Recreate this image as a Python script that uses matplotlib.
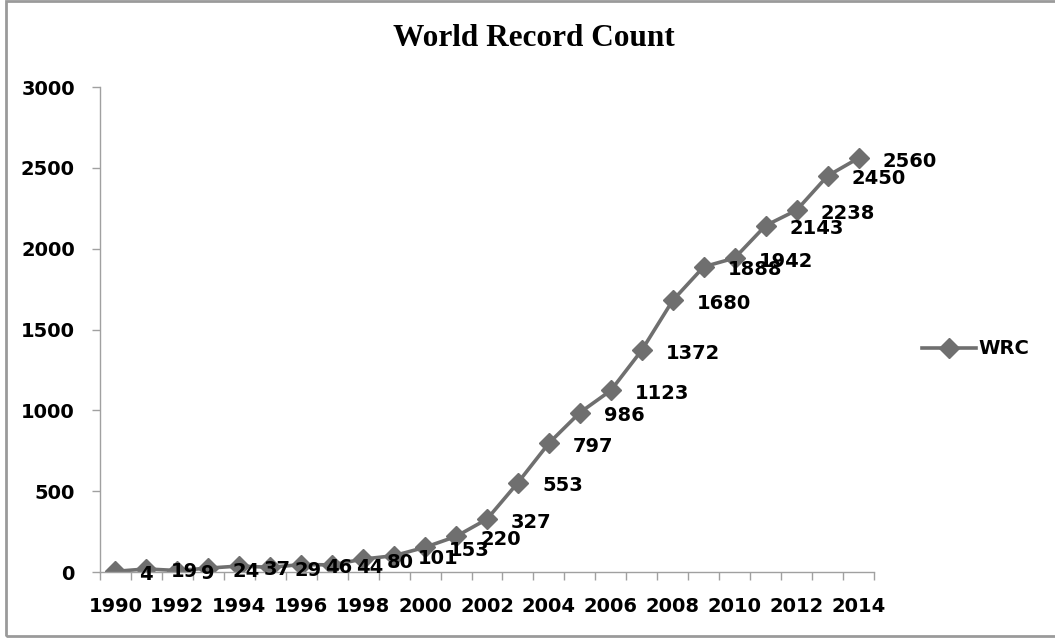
import matplotlib.pyplot as plt
import matplotlib.patches as patches
import numpy as np

# World record counts by year
years = list(range(1990, 2015))
counts = [4, 19, 9, 24, 37, 29, 46, 44, 80, 101, 153, 220, 327, 553, 797,
          986, 1123, 1372, 1680, 1888, 1942, 2143, 2238, 2450, 2560]
series_name = 'WRC'
y_ticks = [0, 500, 1000, 1500, 2000, 2500, 3000]

W, H = 1055, 641
fig = plt.figure(figsize=(W / 100, H / 100), dpi=100)
ax = fig.add_axes([100 / W, (H - 572) / H, 774 / W, 485 / H])

line_color = '#6f6f6f'
x = np.arange(len(years))
ax.plot(x, counts, color=line_color, linewidth=2.6, marker='D',
        markersize=10.5, label=series_name)

# data labels to the right of each point
for xi, c in zip(x, counts):
    ax.annotate(str(c), (xi, c), xytext=(24, -3), textcoords='offset pixels',
                ha='left', va='center', fontsize=14, fontweight='bold')

ax.set_xlim(-0.5, len(years) - 0.5)
ax.set_ylim(0, 3000)
ax.set_yticks(y_ticks)
ax.set_yticklabels([str(v) for v in y_ticks], fontsize=14, fontweight='bold')

ax.set_xticks(x[::2])
ax.set_xticklabels([str(y) for y in years[::2]], fontsize=14, fontweight='bold')
ax.set_xticks(np.arange(-0.5, len(years)), minor=True)
ax.tick_params(axis='x', which='major', length=0, pad=18)
ax.tick_params(axis='x', which='minor', length=6, color='#a0a0a0', width=1)
ax.tick_params(axis='y', length=6, color='#a0a0a0', width=1, pad=12)

for s in ['top', 'right']:
    ax.spines[s].set_visible(False)
for s in ['left', 'bottom']:
    ax.spines[s].set_color('#a0a0a0')
    ax.spines[s].set_linewidth(1)

fig.text(534 / W, 1 - 38 / H, 'World Record Count', ha='center', va='center',
         fontsize=22.5, fontweight='bold', family='Liberation Serif')

leg = ax.legend(loc='center left', bbox_to_anchor=(922 / W, 1 - 349 / H),
                bbox_transform=fig.transFigure, frameon=False,
                prop={'size': 14, 'weight': 'bold'}, handlelength=2.8,
                handletextpad=0.1, borderpad=0, borderaxespad=0)

# chart area border
fig.add_artist(patches.Rectangle((6 / W, 5 / H), 1.2, 1 - 5.5 / H,
                                 transform=fig.transFigure, fill=False,
                                 edgecolor='#9a9a9a', linewidth=2))

plt.savefig('out.png', dpi=100)
plt.close()
